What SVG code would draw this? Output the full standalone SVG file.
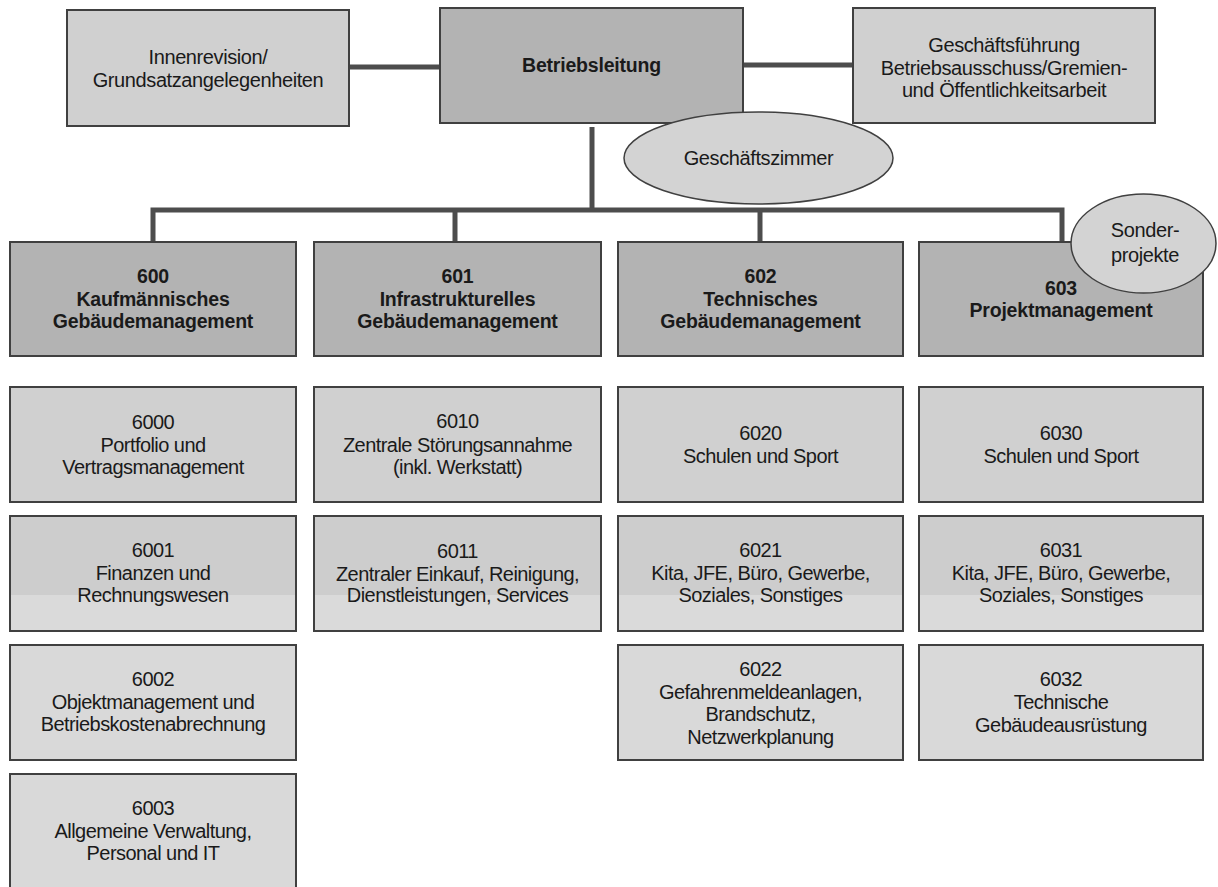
<svg xmlns="http://www.w3.org/2000/svg" width="1218" height="887" viewBox="0 0 1218 887">
<style>
.box{stroke:#404040;stroke-width:2}
.dark{fill:#b3b3b3}
.mid{fill:#d0d0d0}
.light{fill:#d9d9d9}
.ell{fill:#d3d3d3;stroke:#404040;stroke-width:1.5}
.conn{stroke:#4d4d4d;stroke-width:5;fill:none}
text{font-family:"Liberation Sans",Arial,sans-serif;fill:#1a1a1a;text-anchor:middle}
.t1{font-size:20px;letter-spacing:-0.4px}
.tb{font-size:19.5px;font-weight:bold;letter-spacing:-0.2px}
.t3{font-size:20px;letter-spacing:-0.55px}
</style>
<defs>
<linearGradient id="band" x1="0" y1="0" x2="0" y2="1">
<stop offset="0" stop-color="#cdcdcd"/>
<stop offset="0.69" stop-color="#cdcdcd"/>
<stop offset="0.69" stop-color="#dadada"/>
<stop offset="1" stop-color="#dadada"/>
</linearGradient>
</defs>
<rect width="1218" height="887" fill="#ffffff"/>
<g id="connectors">
<line class="conn" x1="349" y1="67" x2="440" y2="67"/>
<line class="conn" x1="743" y1="65" x2="853" y2="65"/>
<line class="conn" x1="592" y1="127" x2="592" y2="210"/>
<polyline class="conn" points="153,242 153,210 1062,210 1062,242"/>
<line class="conn" x1="455" y1="210" x2="455" y2="242"/>
<line class="conn" x1="760" y1="210" x2="760" y2="242"/>
</g>
<g id="innenrevision">
<rect class="box mid" x="67" y="10" width="282" height="116"/>
<text class="t1" x="208" y="64">Innenrevision/</text>
<text class="t1" x="208" y="87">Grundsatzangelegenheiten</text>
</g>
<g id="betriebsleitung">
<rect class="box dark" x="440" y="8" width="303" height="115"/>
<text class="tb" x="591.5" y="72">Betriebsleitung</text>
</g>
<g id="geschaeftsfuehrung">
<rect class="box mid" x="853" y="8" width="302" height="115"/>
<text class="t1" x="1004" y="52">Geschäftsführung</text>
<text class="t1" x="1004" y="75">Betriebsausschuss/Gremien-</text>
<text class="t1" x="1004" y="97">und Öffentlichkeitsarbeit</text>
</g>
<g id="geschaeftszimmer">
<ellipse class="ell" cx="758.5" cy="158" rx="134.5" ry="46"/>
<text class="t1" x="758.5" y="165">Geschäftszimmer</text>
</g>
<g id="n600">
<rect class="box dark" x="10" y="242" width="286" height="114"/>
<text class="tb" x="153" y="283">600</text>
<text class="tb" x="153" y="306">Kaufmännisches</text>
<text class="tb" x="153" y="328">Gebäudemanagement</text>
</g>
<g id="n601">
<rect class="box dark" x="314" y="242" width="287" height="114"/>
<text class="tb" x="457.5" y="283">601</text>
<text class="tb" x="457.5" y="306">Infrastrukturelles</text>
<text class="tb" x="457.5" y="328">Gebäudemanagement</text>
</g>
<g id="n602">
<rect class="box dark" x="618" y="242" width="285" height="114"/>
<text class="tb" x="760.5" y="283">602</text>
<text class="tb" x="760.5" y="306">Technisches</text>
<text class="tb" x="760.5" y="328">Gebäudemanagement</text>
</g>
<g id="n603">
<rect class="box dark" x="919" y="242" width="284" height="114"/>
<text class="tb" x="1061" y="295">603</text>
<text class="tb" x="1061" y="317">Projektmanagement</text>
</g>
<g id="sonderprojekte">
<ellipse class="ell" cx="1143.5" cy="243.5" rx="72.5" ry="49.5"/>
<text class="t1" x="1145" y="237">Sonder-</text>
<text class="t1" x="1145" y="262">projekte</text>
</g>
<g id="n6000">
<rect class="box mid" x="10" y="387" width="286" height="115"/>
<text class="t3" x="153" y="429">6000</text>
<text class="t3" x="153" y="452">Portfolio und</text>
<text class="t3" x="153" y="474">Vertragsmanagement</text>
</g>
<g id="n6001">
<rect class="box" fill="url(#band)" x="10" y="516" width="286" height="115"/>
<text class="t3" x="153" y="557">6001</text>
<text class="t3" x="153" y="580">Finanzen und</text>
<text class="t3" x="153" y="602">Rechnungswesen</text>
</g>
<g id="n6002">
<rect class="box light" x="10" y="645" width="286" height="115"/>
<text class="t3" x="153" y="686">6002</text>
<text class="t3" x="153" y="709">Objektmanagement und</text>
<text class="t3" x="153" y="731">Betriebskostenabrechnung</text>
</g>
<g id="n6003">
<rect class="box light" x="10" y="774" width="286" height="116"/>
<text class="t3" x="153" y="815">6003</text>
<text class="t3" x="153" y="838">Allgemeine Verwaltung,</text>
<text class="t3" x="153" y="860">Personal und IT</text>
</g>
<g id="n6010">
<rect class="box mid" x="314" y="387" width="287" height="115"/>
<text class="t3" x="457.5" y="428">6010</text>
<text class="t3" x="457.5" y="452">Zentrale Störungsannahme</text>
<text class="t3" x="457.5" y="474">(inkl. Werkstatt)</text>
</g>
<g id="n6011">
<rect class="box" fill="url(#band)" x="314" y="516" width="287" height="115"/>
<text class="t3" x="457.5" y="558">6011</text>
<text class="t3" x="457.5" y="581">Zentraler Einkauf, Reinigung,</text>
<text class="t3" x="457.5" y="602">Dienstleistungen, Services</text>
</g>
<g id="n6020">
<rect class="box mid" x="618" y="387" width="285" height="115"/>
<text class="t3" x="760.5" y="440">6020</text>
<text class="t3" x="760.5" y="463">Schulen und Sport</text>
</g>
<g id="n6021">
<rect class="box" fill="url(#band)" x="618" y="516" width="285" height="115"/>
<text class="t3" x="760.5" y="557">6021</text>
<text class="t3" x="760.5" y="580">Kita, JFE, Büro, Gewerbe,</text>
<text class="t3" x="760.5" y="602">Soziales, Sonstiges</text>
</g>
<g id="n6022">
<rect class="box light" x="618" y="645" width="285" height="115"/>
<text class="t3" x="760.5" y="676">6022</text>
<text class="t3" x="760.5" y="699">Gefahrenmeldeanlagen,</text>
<text class="t3" x="760.5" y="721">Brandschutz,</text>
<text class="t3" x="760.5" y="744">Netzwerkplanung</text>
</g>
<g id="n6030">
<rect class="box mid" x="919" y="387" width="284" height="115"/>
<text class="t3" x="1061" y="440">6030</text>
<text class="t3" x="1061" y="463">Schulen und Sport</text>
</g>
<g id="n6031">
<rect class="box" fill="url(#band)" x="919" y="516" width="284" height="115"/>
<text class="t3" x="1061" y="557">6031</text>
<text class="t3" x="1061" y="580">Kita, JFE, Büro, Gewerbe,</text>
<text class="t3" x="1061" y="602">Soziales, Sonstiges</text>
</g>
<g id="n6032">
<rect class="box light" x="919" y="645" width="284" height="115"/>
<text class="t3" x="1061" y="686">6032</text>
<text class="t3" x="1061" y="709">Technische</text>
<text class="t3" x="1061" y="732">Gebäudeausrüstung</text>
</g>
</svg>
